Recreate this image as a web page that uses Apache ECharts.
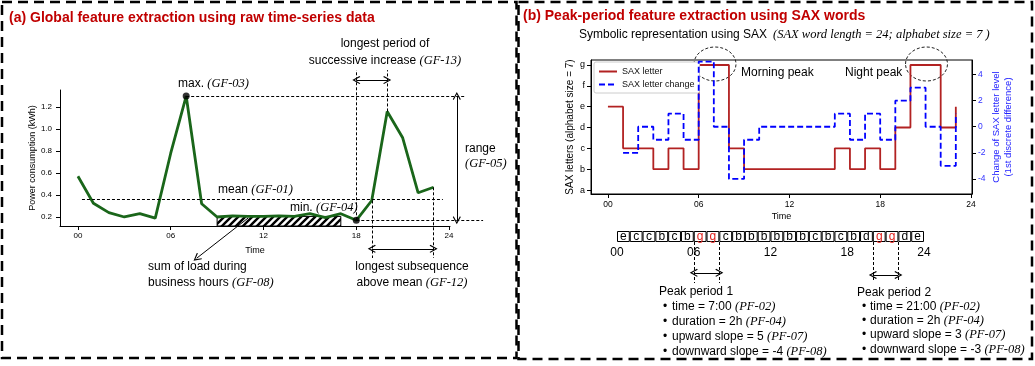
<!DOCTYPE html>
<html><head><meta charset="utf-8">
<script src="https://cdn.jsdelivr.net/npm/echarts@6/dist/echarts.min.js"></script>
<style>html,body{margin:0;padding:0;background:#fff}#c{width:1035px;height:366px}</style>
</head><body><div id="c"></div>
<script>
// ---------------- data ----------------
const hours = [0,1,2,3,4,5,6,7,8,9,10,11,12,13,14,15,16,17,18,19,20,21,22,23];
const power = [0.57,0.325,0.24,0.20,0.23,0.19,0.78,1.30,0.32,0.20,0.21,0.205,0.205,0.21,0.205,0.23,0.195,0.23,0.17,0.35,1.16,0.92,0.42,0.47];
const powerTicks = [0.2,0.4,0.6,0.8,1.0,1.2];
const timeTicks = [0,6,12,18,24];
const meanLevel = 0.365;            // dashed mean line as drawn
const businessHours = [9,17];
const increaseRun = [18,20];        // longest successive increase
const aboveMeanRun = [19,23];       // longest subsequence above mean
const alphabet = ['a','b','c','d','e','f','g'];
const letterTicks = [1,2,3,4,5,6,7];
const saxWord = ['e','c','c','b','c','b','g','g','c','b','b','b','b','b','b','c','b','c','b','d','g','g','d','e'];
const saxLevel = saxWord.map(l => alphabet.indexOf(l) + 1);
const changeHours = [1,2,3,4,5,6,7,8,9,10,11,12,13,14,15,16,17,18,19,20,21,22,23];
const saxChange = [-2,0,-1,1,-1,5,0,-4,-1,0,0,0,0,0,1,-1,1,-1,2,3,0,-3,1];
const changeTicks = [-4,-2,0,2,4];
const peakPeriods = [[6,8],[20,22]];

// ---------------- style ----------------
const SANS = '"Liberation Sans", Arial, Helvetica, sans-serif';
const SERIF = '"Liberation Serif", "Times New Roman", serif';
const GREEN = '#1a661a', RED = '#b22222', BLUE = '#0000ff', TRED = '#c00000';
const ARROW = 'path://M5,0 L10,7.6 L8.9,8.4 L5,2.4 L1.1,8.4 L0,7.6 Z';
const pad2 = v => (v < 10 ? '0' : '') + v;

// main left grid + overlay with the same scale
const G0 = {left:60, top:90, width:390, height:136};
const X0 = [-1.16, 24.06], Y0 = [0.118, 1.355];
const X1 = [-3, 28], Y1 = [-0.4, 1.7];
function overlay(g, xr, yr, xr2, yr2) {
  const sx = g.width/(xr[1]-xr[0]), sy = g.height/(yr[1]-yr[0]);
  return {left: g.left + (xr2[0]-xr[0])*sx, width: (xr2[1]-xr2[0])*sx,
          top: g.top + (yr[1]-yr2[1])*sy, height: (yr2[1]-yr2[0])*sy};
}
const G1 = overlay(G0, X0, Y0, X1, Y1);
const G2 = {left:591, top:60, width:381, height:134};
const X2 = [-1.12, 24.07], YL = [0.81, 7.24], YR = [-5.16, 5.12];
const G3 = {left:617, top:231, width:307, height:11};
const G4 = {left:617, top:231, width:307, height:66};

const maxV = Math.max(...power), minV = Math.min(...power);
const maxH = hours[power.indexOf(maxV)], minH = hours[power.indexOf(minV)];

function seg(a, b, arrows, style) {
  const s = Object.assign({type:[3,2], color:'#000', width:1}, style || {});
  return [
    {coord:a, lineStyle:s, symbol: arrows && arrows[0] ? ARROW : 'none', symbolSize:8},
    {coord:b, symbol: arrows && arrows[1] ? ARROW : 'none', symbolSize:8}
  ];
}
const solid = {type:'solid', width:1};

// hatch pattern
const hc = document.createElement('canvas'); hc.width = 7; hc.height = 7;
(function(){ const c = hc.getContext('2d'); c.fillStyle='#fff'; c.fillRect(0,0,7,7);
  c.strokeStyle='#000'; c.lineWidth=2.4; c.beginPath();
  c.moveTo(-1,8); c.lineTo(8,-1); c.moveTo(-1,1); c.lineTo(1,-1); c.moveTo(6,8); c.lineTo(8,6); c.stroke(); })();

// ---------------- text helpers ----------------
function rt(x, y, parts, o) {
  o = o || {};
  const fs = o.fs || 12;
  return {type:'text', x, y, z:10, style:{
    text: parts.map(p => '{' + (p[1]||'n') + '|' + p[0] + '}').join(''),
    rich: { n:{fontFamily:SANS, fontSize:fs, fill:o.color||'#000'},
            i:{fontFamily:SERIF, fontSize:fs+0.5, fontStyle:'italic', fill:'#000'} },
    align: o.align || 'left', verticalAlign:'middle'}};
}
const graphics = [
  {type:'rect', shape:{x:2,y:2,width:514.5,height:356}, style:{fill:null, stroke:'#000', lineWidth:2.5, lineDash:[10,6]}},
  {type:'rect', shape:{x:518.5,y:2,width:513.5,height:357}, style:{fill:null, stroke:'#000', lineWidth:2.5, lineDash:[10,6]}},
  {type:'text', x:9, y:18, style:{text:'(a) Global feature extraction using raw time-series data', fontFamily:SANS, fontWeight:'bold', fontSize:14, fill:TRED, verticalAlign:'middle'}},
  {type:'text', x:523, y:16, style:{text:'(b) Peak-period feature extraction using SAX words', fontFamily:SANS, fontWeight:'bold', fontSize:14, fill:TRED, verticalAlign:'middle'}},
  rt(385, 44, [['longest period of']], {align:'center'}),
  rt(385, 61, [['successive increase '],['(GF-13)','i']], {align:'center'}),
  rt(178, 84, [['max. '],['(GF-03)','i']]),
  rt(465, 149, [['range']]),
  rt(465, 164, [['(GF-05)','i']]),
  rt(218, 190, [['mean '],['(GF-01)','i']]),
  rt(290, 208, [['min. '],['(GF-04)','i']]),
  rt(148, 267, [['sum of load during']]),
  rt(148, 283, [['business hours '],['(GF-08)','i']]),
  rt(412, 267, [['longest subsequence']], {align:'center'}),
  rt(412, 283, [['above mean '],['(GF-12)','i']], {align:'center'}),
  rt(579, 35, [['Symbolic representation using SAX']]),
  rt(773, 35, [['(SAX word length = 24; alphabet size = 7 )','i']]),
  rt(741, 73, [['Morning peak']]),
  rt(845, 73, [['Night peak']]),
  {type:'ellipse', shape:{cx:715, cy:64, rx:21, ry:17}, style:{fill:null, stroke:'#222', lineWidth:1, lineDash:[3,2]}},
  {type:'ellipse', shape:{cx:926.5, cy:64, rx:21, ry:17}, style:{fill:null, stroke:'#222', lineWidth:1, lineDash:[3,2]}},
  rt(659, 292, [['Peak period 1']]),
  rt(857, 293, [['Peak period 2']])
];
const p1 = [[['time = 7:00 '],['(PF-02)','i']], [['duration = 2h '],['(PF-04)','i']], [['upward slope = 5 '],['(PF-07)','i']], [['downward slope = -4 '],['(PF-08)','i']]];
const p2 = [[['time = 21:00 '],['(PF-02)','i']], [['duration = 2h '],['(PF-04)','i']], [['upward slope = 3 '],['(PF-07)','i']], [['downward slope = -3 '],['(PF-08)','i']]];
const y1 = [306.5, 322, 337, 352], y2 = [306.5, 321, 335, 349.5];
p1.forEach((l,k) => { graphics.push(rt(663, y1[k], [['•']])); graphics.push(rt(672, y1[k], l)); });
p2.forEach((l,k) => { graphics.push(rt(862, y2[k], [['•']])); graphics.push(rt(870, y2[k], l)); });

const tickLbl = {fontFamily:SANS, color:'#000'};
const hidden = (gi, r) => ({gridIndex:gi, type:'value', min:r[0], max:r[1], show:false});

const option = {
  animation:false,
  backgroundColor:'#fff',
  graphic: graphics,
  legend: {left:594, top:62, orient:'vertical', data:['SAX letter','SAX letter change'],
    itemWidth:18, itemHeight:8, itemGap:4, padding:[5,5,4,4],
    itemStyle:{opacity:0},
    borderColor:'#cccccc', borderWidth:1, borderRadius:2, backgroundColor:'#fff',
    textStyle:{fontFamily:SANS, fontSize:9, color:'#111'}},
  grid: [
    Object.assign({show:false}, G0),
    Object.assign({show:false}, G1),
    Object.assign({show:true, borderColor:'#000', borderWidth:1}, G2),
    Object.assign({show:false}, G3),
    Object.assign({show:false}, G4)
  ],
  xAxis: [
    {gridIndex:0, type:'value', min:X0[0], max:X0[1], name:'Time', nameLocation:'middle', nameGap:20,
      nameTextStyle:{fontFamily:SANS, fontSize:9, color:'#000'},
      axisLine:{show:true, onZero:false, lineStyle:{color:'#000', width:1}},
      axisTick:{show:true, length:4, customValues:timeTicks, lineStyle:{color:'#000'}},
      axisLabel:{customValues:timeTicks, formatter:pad2, fontSize:8, margin:6, ...tickLbl},
      splitLine:{show:false}},
    hidden(1, X1),
    {gridIndex:2, type:'value', min:X2[0], max:X2[1], name:'Time', nameLocation:'middle', nameGap:18,
      nameTextStyle:{fontFamily:SANS, fontSize:9, color:'#000'},
      axisLine:{show:true, onZero:false, lineStyle:{color:'#000', width:1}},
      axisTick:{show:true, length:4, customValues:timeTicks, lineStyle:{color:'#000'}},
      axisLabel:{customValues:timeTicks, formatter:pad2, fontSize:8.5, margin:6, ...tickLbl},
      splitLine:{show:false}},
    {gridIndex:3, type:'category', data:hours, show:false, boundaryGap:true},
    {gridIndex:3, type:'value', min:0, max:24, position:'bottom',
      axisLine:{show:false}, axisTick:{show:false},
      axisLabel:{customValues:timeTicks, formatter:pad2, fontSize:12, margin:5, ...tickLbl},
      splitLine:{show:false}},
    hidden(4, [0,24])
  ],
  yAxis: [
    {gridIndex:0, type:'value', min:Y0[0], max:Y0[1], name:'Power consumption (kWh)', nameLocation:'middle', nameGap:22,
      nameTextStyle:{fontFamily:SANS, fontSize:9, color:'#000'},
      axisLine:{show:true, onZero:false, lineStyle:{color:'#000', width:1}},
      axisTick:{show:true, length:4, customValues:powerTicks, lineStyle:{color:'#000'}},
      axisLabel:{customValues:powerTicks, formatter:v => v.toFixed(1), fontSize:8, margin:8, ...tickLbl},
      splitLine:{show:false}},
    hidden(1, Y1),
    {gridIndex:2, type:'value', position:'left', min:YL[0], max:YL[1], name:'SAX letters (alphabet size = 7)', nameLocation:'middle', nameGap:16,
      nameTextStyle:{fontFamily:SANS, fontSize:10, color:'#000'},
      axisLine:{show:true, onZero:false, lineStyle:{color:'#000', width:1}},
      axisTick:{show:true, length:4, customValues:letterTicks, lineStyle:{color:'#000'}},
      axisLabel:{customValues:letterTicks, formatter:v => alphabet[Math.round(v)-1], fontSize:9, margin:6, ...tickLbl},
      splitLine:{show:false}},
    {gridIndex:2, type:'value', position:'right', min:YR[0], max:YR[1], name:'Change of SAX letter level\n(1st discrete difference)', nameLocation:'middle', nameGap:18, nameRotate:90,
      nameTextStyle:{fontFamily:SANS, fontSize:9.5, color:'#2222ff', lineHeight:12},
      axisLine:{show:true, onZero:false, lineStyle:{color:'#000', width:1}},
      axisTick:{show:true, length:4, customValues:changeTicks, lineStyle:{color:'#000'}},
      axisLabel:{customValues:changeTicks, fontSize:8.5, margin:6, fontFamily:SANS, color:'#3333ff'},
      splitLine:{show:false}},
    hidden(3, [0,1]),
    hidden(4, [-5,1])
  ],
  series: [
    {type:'line', xAxisIndex:0, yAxisIndex:0, data:hours.map((h,i)=>[h,power[i]]), symbol:'none',
      lineStyle:{color:GREEN, width:2.8}, itemStyle:{color:GREEN}, z:3},
    {type:'scatter', xAxisIndex:0, yAxisIndex:0, data:[[maxH,maxV],[minH,minV]], symbolSize:7,
      itemStyle:{color:'#000'}, z:6},
    {type:'line', xAxisIndex:1, yAxisIndex:1, data:[], symbol:'none', z:4,
      markArea:{silent:true, itemStyle:{color:{image:hc, repeat:'repeat'}, borderColor:'#000', borderWidth:1},
        data:[[{coord:[businessHours[0], Y0[0]]},{coord:[businessHours[1], 0.205]}]]},
      markLine:{silent:true, symbol:['none','none'], label:{show:false}, emphasis:{disabled:true},
        data:[
          seg([0.26, meanLevel],[23.6, meanLevel]),
          seg([maxH, maxV],[25.03, maxV]),
          seg([minH, minV],[26.2, minV]),
          seg([24.5, maxV],[24.5, minV],[1,1], solid),
          seg([increaseRun[0], minV],[increaseRun[0], 1.536]),
          seg([increaseRun[1], power[increaseRun[1]]],[increaseRun[1], 1.536]),
          seg([increaseRun[0], 1.445],[increaseRun[1], 1.445],[1,1], solid),
          seg([aboveMeanRun[0], power[aboveMeanRun[0]]],[aboveMeanRun[0], -0.173]),
          seg([aboveMeanRun[1], power[aboveMeanRun[1]]],[aboveMeanRun[1], -0.173]),
          seg([aboveMeanRun[0], -0.09],[aboveMeanRun[1], -0.09],[1,1], solid),
          seg([11.0, 0.19],[7.68, -0.175],[0,1], solid)
        ]}},
    {type:'line', name:'SAX letter', xAxisIndex:2, yAxisIndex:2, step:'end', data:hours.map((h,i)=>[h,saxLevel[i]]),
      symbol:'none', lineStyle:{color:RED, width:1.8}, itemStyle:{color:RED}, z:3},
    {type:'line', name:'SAX letter change', xAxisIndex:2, yAxisIndex:3, step:'end', data:changeHours.map((h,i)=>[h,saxChange[i]]),
      symbol:'none', lineStyle:{color:BLUE, width:1.8, type:[6,3]}, itemStyle:{color:BLUE}, z:4},
    {type:'bar', xAxisIndex:3, yAxisIndex:4, barCategoryGap:'0%', silent:true,
      data:saxWord.map(l => ({value:1, label:{color: l === 'g' ? '#e0201b' : '#000'}})),
      itemStyle:{color:'#fff', borderColor:'#000', borderWidth:1},
      label:{show:true, position:'inside', fontFamily:SANS, fontSize:12, formatter:p => saxWord[p.dataIndex]}},
    {type:'line', xAxisIndex:5, yAxisIndex:5, data:[], symbol:'none',
      markLine:{silent:true, symbol:['none','none'], label:{show:false}, emphasis:{disabled:true},
        data:[
          seg([peakPeriods[0][0], 0],[peakPeriods[0][0], -3.73]),
          seg([peakPeriods[0][1], 0],[peakPeriods[0][1], -3.73]),
          seg([peakPeriods[0][0], -2.8],[peakPeriods[0][1], -2.8],[1,1], solid),
          seg([peakPeriods[1][0], 0],[peakPeriods[1][0], -3.55]),
          seg([peakPeriods[1][1], 0],[peakPeriods[1][1], -3.55]),
          seg([peakPeriods[1][0], -3.0],[peakPeriods[1][1], -3.0],[1,1], solid)
        ]}}
  ]
};
const chart = echarts.init(document.getElementById('c'), null, {renderer:'canvas', width:1035, height:366});
chart.setOption(option);
</script></body></html>
